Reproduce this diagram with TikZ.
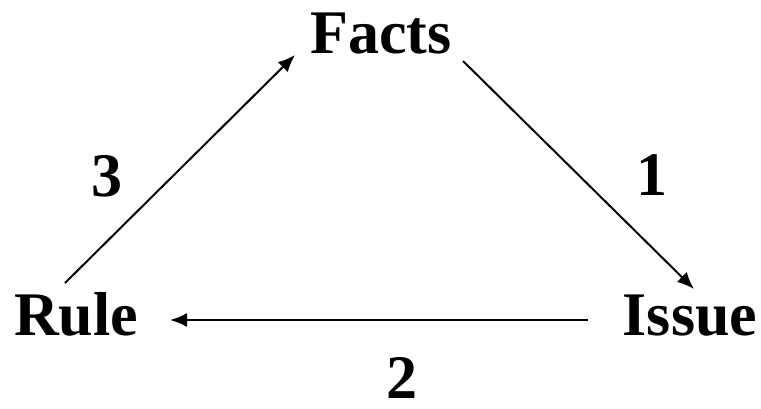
\documentclass[tikz,border=0pt]{standalone}
\usepackage{fontspec}
\setmainfont{Liberation Serif}
\usetikzlibrary{arrows.meta}
\begin{document}
\begin{tikzpicture}[x=1pt,y=-1pt,
  lbl/.style={inner sep=0pt,anchor=base,font=\fontsize{62}{70}\selectfont\bfseries},
  conn/.style={line width=2pt,-{Latex[length=17pt,width=14pt]}}]
\useasboundingbox (0,0) rectangle (761,408);
\node[lbl] (facts) at (381,53) {Facts};
\node[lbl] (rule) at (76,335) {Rule};
\node[lbl] (issue) at (690,335) {Issue};
\node[lbl] (n3) at (107,196) {3};
\node[lbl] (n1) at (652,195) {1};
\node[lbl] (n2) at (402,398) {2};
\coordinate (a1s) at (463,61);
\coordinate (a1e) at (694,289);
\coordinate (a2s) at (588,320);
\coordinate (a2e) at (170,320);
\coordinate (a3s) at (65,283);
\coordinate (a3e) at (295,55);
\draw[conn] (a1s) -- (a1e);
\draw[conn] (a2s) -- (a2e);
\draw[conn] (a3s) -- (a3e);
\end{tikzpicture}
\end{document}
